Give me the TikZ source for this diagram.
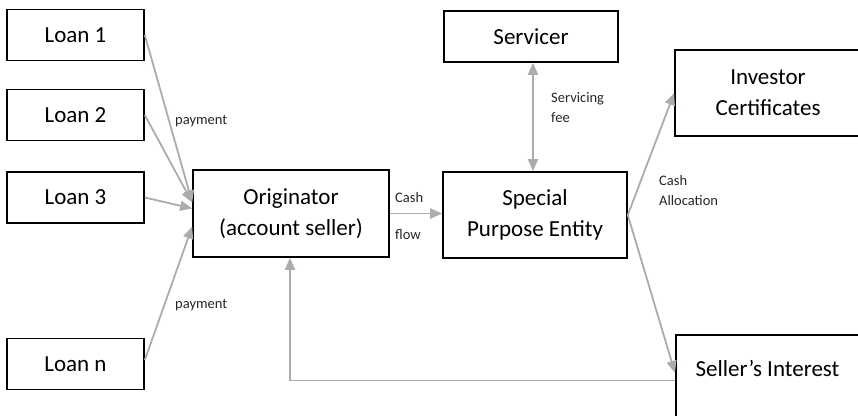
\documentclass[tikz,border=0pt]{standalone}
\usepackage{fontspec}
\setmainfont{Carlito}
\usetikzlibrary{arrows.meta,calc}
\definecolor{flowgray}{RGB}{175,171,170}
\tikzset{
  box/.style={draw=black, line width=1.6pt, rectangle, inner sep=0pt, align=center,
    font=\fontsize{23}{31}\selectfont},
  flow/.style={draw=flowgray, line width=1.8pt, -{Triangle[length=12pt,width=10pt]}},
  flowboth/.style={draw=flowgray, line width=1.8pt, {Triangle[length=12pt,width=10pt]}-{Triangle[length=12pt,width=10pt]}},
  thinflow/.style={draw=flowgray, line width=1.1pt},
  lbl/.style={anchor=base west, inner sep=0pt, font=\fontsize{14.5}{20}\selectfont, text=black!85}
}
\begin{document}
\begin{tikzpicture}[x=1pt,y=-1pt]
\useasboundingbox (0,0) rectangle (858,415);
% boxes
\node[box, minimum width=137, minimum height=51] (loan1) at (75.5,35) {Loan 1};
\node[box, minimum width=137, minimum height=51] (loan2) at (75.5,115) {Loan 2};
\node[box, minimum width=137, minimum height=51] (loan3) at (75.5,197.5) {Loan 3};
\node[box, minimum width=137, minimum height=51] (loann) at (75.5,364) {Loan n};
\node[box, minimum width=196, minimum height=87] (orig) at (291,213.5) {Originator\\(account seller)};
\node[box, minimum width=174, minimum height=51] (serv) at (531,36.5) {Servicer};
\node[box, minimum width=184, minimum height=86] (spe) at (535,215) {Special\\Purpose Entity};
\node[box, minimum width=186, minimum height=86] (inv) at (768,93) {Investor\\Certificates};
\node[box, minimum width=186, minimum height=110, anchor=north west] (seller) at (675,334) {};
\node[anchor=base, inner sep=0pt, font=\fontsize{23}{31}\selectfont] (sellertext) at (767.5,376) {Seller’s Interest};
% connectors
\draw[flow] (loan1.east) -- ([yshift=11pt]orig.west);
\draw[flow] (loan2.east) -- ([yshift=11pt]orig.west);
\draw[flow] (loan3.east) -- ([yshift=5pt]orig.west);
\draw[flow] ([yshift=4pt]loann.east) -- ([yshift=-13pt]orig.west);
\draw[flow] (orig.east) -- (orig.east -| spe.west);
\draw[flowboth] ([xshift=2pt]serv.south) -- ([xshift=-2pt]spe.north);
\draw[flow] (spe.east) -- (inv.west);
\draw[flow] (spe.east) -- ([yshift=17pt]seller.west);
\coordinate (corner) at ([yshift=9pt]seller.west -| 290,0);
\draw[thinflow] ([yshift=9pt]seller.west) -- (corner);
\draw[flow] (corner) -- (290,0 |- orig.south);
% labels
\node[lbl] (pay1) at (175,124) {payment};
\node[lbl] (pay2) at (175,308) {payment};
\node[lbl] (cash1) at (395,202) {Cash};
\node[lbl] (flow1) at (395,239) {flow};
\node[lbl] (serv1) at (551,102) {Servicing};
\node[lbl] (fee1) at (551,122) {fee};
\node[lbl] (cash2) at (659,185) {Cash};
\node[lbl] (alloc) at (659,205) {Allocation};
\end{tikzpicture}
\end{document}
